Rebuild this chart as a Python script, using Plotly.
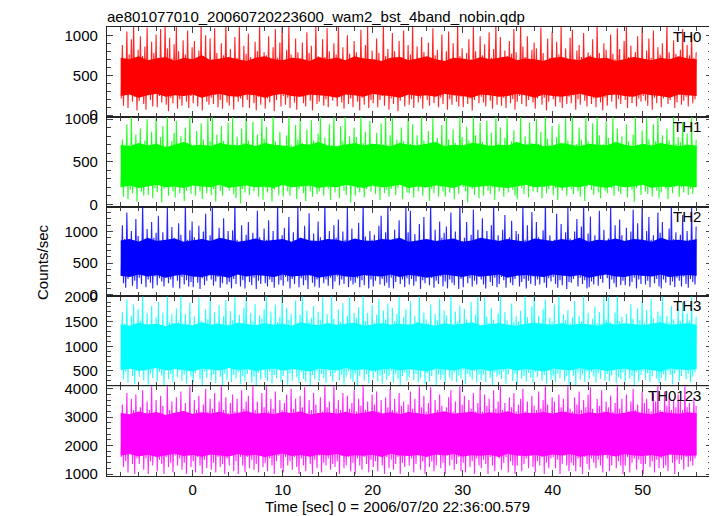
import plotly.graph_objects as go

# ---- data: counts/sec in equal time bins covering -8 s .. 56 s ----
t_start = -8.0
t_end = 56.0

th0 = [210,880,120,700,260,1050,90,760,300,950,170,1140,230,690,60,820,
       180,990,310,740,140,860,70,1100,250,680,190,920,110,780,280,1010,
       100,720,240,1080,160,650,290,1150,130,840,50,970,220,710,150,890,
       270,1120,80,800,200,690,120,940,320,760,170,1060,90,670,240,850,
       150,930,280,660,110,810,230,1130,60,740,300,1000,170,700,130,960,
       220,700,140,1090,260,780,100,680,190,900,80,750,290,1150,160,710,
       120,830,250,650,70,980,310,720,170,1110,210,690,100,870,270,770,
       190,1020,90,730,280,670,150,920,60,800,230,1130,130,660,320,790,
       80,750,210,990,160,690,270,850,50,1080,190,720,300,910,110,1150,
       240,680,130,820,220,1120,90,760,280,650,160,960,70,790,230,700,
       300,910,150,670,110,1040,250,780,180,870,60,690,260,1140,140,740,
       170,660,290,950,120,730,200,1090,100,800,270,680,180,900,310,760,
       110,1140,230,710,160,850,80,650,300,1000,140,770,210,690,100,930,
       260,790,170,640,60,1070,220,720,130,880,280,1110,90,680,190,810,
       150,700,310,960,100,780,190,660,240,1150,120,740,290,830,70,690,
       210,1030,140,800,270,670,50,930,180,730,230,1060,110,650,300,880,
       130,760,200,1130,90,690,260,860,160,650,210,980,80,790,280,720,
       190,910,120,670,240,1090,150,750,310,820,100,680,220,1010,140,640,
       270,800,70,1050,200,710,130,900,290,660,170,1150,110,740,230,840,
       100,680,250,780,140,950,210,700,60,1120,190,800,300,650,150,990,
       230,750,160,890,110,660,280,1040,180,720,80,830,240,1150,130,690,
       290,980,120,710,220,810,90,640,260,930,150,770,200,1080,70,790,
       170,670,240,1140,140,860,310,730,110,990,190,680,250,820,160,910,
       80,840,210,650,280,1100,130,780,220,690,60,960,170,720,260,1050,
       200,710,110,920,240,760,160,1130,90,640,290,840,140,690,230,970,
       150,1070,250,700,70,810,200,880,130,730,300,1030,180,660,110,790,
       270,750,140,950,210,670,100,1150,240,780,160,700,60,900,220,820,
       120,640,260,1010,170,770,290,700,80,1090,200,830,140,680,250,930,
       190,1140,90,730,230,870,150,650,300,790,110,990,210,710,170,1100,
       240,690,180,810,120,960,260,720,70,1060,220,660,150,850,290,760,
       100,900,210,680,250,1150,140,790,190,700,280,940,90,770,160,650,
       260,820,130,1080,180,690,230,880,110,750,290,1010,150,720,200,790]

th1 = [200,760,90,650,250,940,60,700,170,1040,130,630,240,820,30,680,
       280,890,150,620,100,750,220,1000,110,660,250,850,70,710,190,1050,
       140,640,270,790,20,920,180,680,230,1030,100,620,290,740,150,840,
       80,980,210,670,130,800,250,630,40,900,160,720,200,1050,120,650,
       240,700,100,860,280,620,150,950,60,760,220,660,130,1010,260,740,
       110,1050,180,680,30,820,240,640,160,920,100,750,280,630,200,960,
       160,630,260,1030,120,700,70,790,230,660,10,890,180,720,140,1050,
       250,750,110,640,210,970,150,690,290,820,90,620,220,1020,50,770,
       190,910,140,710,260,630,30,1050,170,740,240,660,110,850,280,680,
       90,650,220,810,150,1050,100,700,200,620,250,930,60,760,180,1000,
       270,720,130,630,40,880,210,680,150,990,90,750,260,640,120,830,
       150,1040,240,700,100,780,280,620,180,940,50,690,210,1050,140,660,
       220,640,70,920,250,740,160,1030,110,660,230,800,20,700,270,900,
       100,790,190,660,140,1050,230,720,80,850,180,620,260,980,150,710,
       260,670,120,840,200,640,50,950,240,700,130,1040,170,660,90,810,
       180,1020,250,690,110,760,190,650,290,900,60,740,220,630,140,1050,
       130,710,210,940,80,680,260,810,150,620,230,1050,100,750,190,660,
       240,860,40,650,180,1010,130,710,270,780,90,640,210,930,150,690,
       90,1050,230,760,140,670,200,880,60,720,250,620,120,1030,280,790,
       200,650,150,910,20,750,240,680,180,1050,110,810,220,660,70,960,
       280,730,100,620,230,980,160,700,120,840,200,650,50,1050,250,710,
       150,900,210,680,90,780,270,1040,140,640,240,740,170,870,100,660,
       60,700,250,1050,190,650,120,800,230,680,80,960,260,720,150,630,
       220,1000,140,710,280,850,70,660,200,1050,130,770,180,620,240,920,
       110,660,190,790,50,940,250,700,160,640,220,1010,100,750,270,670,
       180,1050,120,640,230,710,150,900,90,760,280,660,40,1040,200,740,
       250,700,170,950,110,660,210,1050,140,810,70,630,230,710,160,980,
       130,780,260,650,190,1030,100,720,250,890,150,670,120,800,210,640,
       200,940,80,740,240,670,170,820,30,1050,190,700,260,650,110,870,
       270,660,150,1020,120,760,210,630,90,940,240,740,160,1050,70,690,
       140,810,230,680,180,890,60,750,220,650,130,1040,200,710,250,790,
       90,730,200,970,140,660,260,830,110,700,180,1050,120,640,230,760]

th2 = [300,1100,180,880,110,1300,250,800,350,1010,140,860,220,1200,90,930,
       270,790,170,1450,330,870,120,1040,240,820,190,1150,100,900,290,980,
       150,1250,260,800,210,990,130,850,340,1380,180,790,240,1070,110,900,
       320,830,220,1130,100,950,280,810,160,1450,230,870,130,1020,200,1160,
       120,910,290,800,190,1090,90,840,260,1000,150,1280,220,790,330,940,
       240,1420,140,870,210,790,280,1060,110,820,180,1210,310,850,160,1010,
       200,810,100,1020,250,1450,170,870,320,780,130,1100,230,830,100,950,
       300,1150,200,790,150,980,270,830,90,1330,220,910,170,800,340,1050,
       180,870,130,1180,240,790,200,1010,110,850,290,1450,160,820,230,940,
       140,1060,280,850,210,1230,100,800,250,990,170,790,330,1400,120,900,
       260,820,150,1090,230,870,90,1290,300,790,190,970,130,840,240,1160,
       110,910,330,810,180,1450,240,850,140,1010,270,830,90,1100,210,900,
       290,1190,150,790,240,1000,170,870,310,1380,120,820,220,1050,160,800,
       190,850,260,1140,120,830,230,1450,150,920,300,790,100,1010,240,870,
       130,950,220,800,290,1090,160,1250,250,850,140,990,190,1450,110,830,
       270,870,100,1030,200,800,330,1180,170,890,240,790,120,1400,260,990,
       160,1330,250,830,140,960,210,800,280,1120,90,870,230,1230,180,810,
       310,790,150,1450,260,850,110,1030,220,830,170,1160,290,900,130,980,
       210,1080,100,820,240,1300,190,870,150,1000,340,790,90,1450,250,850,
       120,900,300,1150,180,790,260,950,130,1350,220,830,160,1030,280,800,
       240,1210,160,850,100,1010,320,820,200,1100,140,1450,270,870,120,940,
       170,830,280,1030,230,1260,110,790,300,910,190,1170,150,850,250,1010,
       320,960,130,820,200,1410,250,870,100,1100,220,790,170,1310,290,830,
       140,1150,240,910,160,800,290,1020,190,1450,110,850,260,940,210,790,
       280,870,170,1280,110,840,230,1120,150,790,310,990,90,1380,200,890,
       190,790,250,1000,310,1200,130,830,270,1080,170,1450,230,800,100,970,
       120,1240,210,850,160,940,290,790,140,1330,250,870,190,1030,330,830,
       260,890,90,1420,240,800,180,1100,120,840,300,1190,150,940,220,790,
       150,1060,310,830,130,1000,200,1350,270,850,100,1130,240,800,170,1450,
       300,820,160,1010,220,1230,120,870,320,940,180,800,250,1300,130,980,
       100,1150,240,850,190,790,280,1050,150,1450,210,880,120,990,270,830,
       220,950,130,1260,290,800,170,1010,110,870,250,1380,200,830,160,1080]

th3 = [560,1700,330,1450,480,1950,260,1350,640,1620,400,1850,230,1400,520,1760,
       380,1520,600,2050,310,1380,500,1680,220,1450,450,1820,350,1310,620,1590,
       290,1900,480,1420,410,1690,200,1340,540,2030,330,1490,440,1650,270,1400,
       600,1770,370,1500,510,2050,300,1380,430,1660,240,1460,520,1890,380,1320,
       260,1610,460,1420,630,1980,330,1520,210,1350,490,1750,360,1550,540,2050,
       310,1390,430,1700,250,1480,520,1840,380,1330,200,1620,450,1940,320,1450,
       570,1720,270,1530,420,2010,340,1380,480,1640,230,1470,400,1790,290,2050,
       440,1420,530,1670,260,1500,380,1860,210,1370,470,1630,320,1560,590,1750,
       360,2030,290,1450,490,1710,240,1360,420,1850,350,1490,550,1600,270,2050,
       400,1400,500,1780,220,1540,450,1660,300,1380,600,1930,370,1460,260,1640,
       480,2050,340,1440,280,1730,520,1500,200,1580,420,1820,330,1350,500,1700,
       290,1530,440,1990,360,1410,250,1650,510,1480,390,2050,280,1560,460,1390,
       550,1750,310,1490,420,1880,220,1430,380,1620,490,2040,340,1470,270,1680,
       450,1580,200,1800,390,1450,520,2050,300,1510,430,1680,250,1400,530,1850,
       340,1480,480,1640,280,1960,410,1390,240,1730,450,1550,310,1870,390,1440,
       500,1780,260,1510,440,1660,330,2010,210,1430,400,1590,470,1760,300,1460,
       370,1920,520,1420,310,1620,440,1500,260,2050,350,1380,540,1690,240,1550,
       460,1470,290,1850,400,1390,510,1660,210,1530,430,1970,320,1440,420,1730,
       250,1630,550,1450,360,2050,300,1400,480,1710,270,1500,410,1830,340,1370,
       520,1760,230,1550,450,1420,380,1900,320,1460,500,1650,260,2020,430,1410,
       310,1440,430,1990,270,1600,530,1480,360,1780,200,1540,480,1390,380,1670,
       420,2050,330,1430,490,1700,240,1520,430,1400,550,1870,290,1490,450,1620,
       230,1510,510,1730,340,1450,400,2050,280,1590,460,1420,360,1810,260,2050,
       480,1390,370,1620,540,1480,300,1760,420,1950,240,1440,500,1580,320,1500,
       390,1850,270,1440,450,2050,350,1410,520,1650,290,1530,400,1740,220,1480,
       530,1590,400,1920,210,1460,470,1620,320,1500,430,2050,270,1420,490,1680,
       330,1430,480,1560,380,1810,260,1470,450,1700,340,1400,540,2000,300,1540,
       440,2040,290,1490,410,1390,510,1690,250,2050,370,1510,330,1600,470,1420,
       270,1660,530,1450,340,1860,400,1560,210,1440,480,1770,280,1530,420,1930,
       500,1480,320,1740,450,1410,270,1960,390,1570,520,1450,340,1710,250,1610,
       360,2050,430,1430,300,1620,490,1490,420,1820,230,1550,450,1420,510,1770,
       290,1510,400,1900,510,1440,330,1670,440,1520,270,2030,380,1410,470,1600]

th0123 = [1600,3450,1250,3100,1450,3850,1050,3000,1700,3650,1350,3250,1000,3800,1550,3050,
          1350,3350,1750,3950,1150,3150,1550,3550,1000,3250,1450,4150,1300,3000,1700,3600,
          1100,3150,1500,3750,1350,3400,1000,3050,1600,4150,1250,3250,1400,3550,1050,3100,
          1650,3700,1300,3000,1550,3900,1150,3200,1400,3500,1000,3150,1750,4100,1250,3050,
          1450,3600,1050,3250,1600,3750,1300,3100,1000,3450,1500,4000,1200,3200,1700,3650,
          1150,3300,1400,3850,1050,3100,1600,3550,1250,4150,1350,3250,1000,3700,1550,3150,
          1300,3500,1650,3800,1100,3200,1450,3650,1000,3100,1600,3950,1300,3300,1050,3550,
          1600,3750,1200,3150,1500,4100,1150,3250,1350,3550,1050,3100,1700,3850,1250,3350,
          1400,4150,1100,3200,1550,3650,1300,3300,1000,3900,1450,3150,1650,3600,1200,3250,
          1050,3500,1600,3800,1300,3150,1450,4000,1150,3300,1600,3650,1250,3200,1000,3750,
          1550,3350,1300,4050,1100,3100,1700,3600,1350,3250,1000,3850,1500,3450,1200,3150,
          1650,3700,1050,3200,1400,4150,1300,3350,1550,3550,1150,3100,1350,4150,1250,3300,
          1450,3600,1000,3250,1650,3850,1200,3150,1300,3750,1600,3300,1100,3500,1400,3950,
          1000,3200,1550,3650,1300,3400,1150,4100,1600,3250,1350,3550,1050,3150,1500,3800,
          1250,3450,1450,3900,1100,3200,1700,3600,1300,3100,1000,3700,1600,3350,1200,4000,
          1500,3250,1150,3650,1350,3200,1600,3850,1000,3400,1400,3550,1250,3150,1650,3450,
          1300,3900,1550,3300,1050,3650,1350,3150,1650,4100,1150,3350,1450,3750,1000,3200,
          1600,3500,1250,4050,1450,3100,1100,3600,1300,3250,1700,3800,1200,3400,1400,3200,
          1000,3350,1650,3700,1300,3950,1500,3200,1150,3550,1350,3150,1600,4150,1100,3450,
          1400,3750,1050,3150,1700,3600,1250,3300,1450,3850,1000,3200,1550,3500,1300,4050,
          1200,3200,1500,3800,1350,3400,1000,3650,1600,3100,1300,3950,1100,3300,1650,3550,
          1550,4100,1150,3250,1400,3500,1600,3150,1050,3700,1450,3350,1300,3850,1000,3200,
          1300,3450,1700,3650,1100,4000,1350,3200,1550,3550,1200,3100,1650,3750,1250,3400,
          1050,3250,1450,3900,1300,3300,1600,3600,1000,4150,1400,3450,1200,3150,1550,3700,
          1600,3550,1200,3150,1500,3800,1000,3350,1350,3650,1650,3200,1300,4100,1100,3300,
          1400,3200,1300,3700,1100,3450,1550,3900,1250,3250,1000,3600,1600,3350,1350,3800,
          1150,4050,1550,3300,1400,3150,1200,3650,1500,3400,1300,3950,1050,3200,1700,3550,
          1550,3350,1100,3750,1300,3200,1650,3500,1200,4100,1450,3300,1300,3650,1000,3150,
          1300,3800,1600,3200,1050,3550,1400,4000,1550,3250,1150,3450,1500,3100,1350,3900,
          1000,3500,1350,3650,1650,3300,1250,3200,1450,3850,1050,3550,1500,4150,1200,3250,
          1550,3200,1200,3900,1300,3400,1100,3700,1700,3250,1400,3600,1000,3350,1500,3800,
          1350,3650,1500,3250,1150,4100,1600,3350,1250,3500,1450,3150,1300,3700,1550,3400]

# edges of the saturated core of each light curve, 1 s steps, t = -8 .. 56
th0_core_hi = [720, 700, 740, 690, 710, 730, 680, 720, 700, 750, 690, 710, 730, 700, 680, 720,
               740, 700, 690, 720, 710, 680, 730, 700, 720, 690, 740, 710, 700, 680, 720, 730,
               690, 710, 740, 700, 680, 720, 710, 690, 730, 700, 720, 740, 690, 710, 700, 680,
               720, 730, 700, 690, 740, 710, 720, 680, 700, 730, 710, 690, 720, 700, 740, 710, 700]
th0_core_lo = [240, 260, 220, 250, 270, 230, 250, 240, 260, 220, 250, 270, 240, 230, 260, 250,
               220, 250, 270, 240, 230, 260, 250, 240, 220, 260, 250, 230, 270, 250, 240, 220,
               260, 240, 250, 230, 270, 250, 240, 220, 260, 250, 230, 240, 270, 250, 220, 260,
               240, 230, 250, 270, 240, 220, 250, 260, 240, 230, 270, 250, 240, 220, 260, 250, 240]
th1_core_hi = [700, 680, 720, 690, 710, 670, 700, 730, 690, 700, 680, 720, 700, 690, 710, 680,
               720, 700, 690, 670, 710, 700, 730, 690, 680, 700, 720, 690, 710, 700, 680, 720,
               700, 690, 710, 730, 680, 700, 690, 720, 710, 680, 700, 690, 730, 700, 710, 680,
               690, 720, 700, 680, 710, 700, 690, 730, 700, 680, 710, 690, 720, 700, 680, 700, 690]
th1_core_lo = [200, 220, 190, 210, 230, 200, 210, 190, 220, 210, 200, 230, 190, 210, 220, 200,
               210, 190, 230, 200, 210, 220, 190, 210, 200, 230, 210, 190, 220, 200, 210, 230,
               190, 210, 200, 220, 210, 190, 230, 200, 210, 220, 200, 190, 210, 230, 200, 210,
               220, 190, 210, 200, 230, 210, 190, 220, 200, 210, 230, 190, 210, 200, 220, 210, 200]
th2_core_hi = [860, 880, 840, 900, 850, 870, 890, 840, 860, 880, 850, 900, 870, 840, 860, 890,
               850, 870, 880, 840, 900, 860, 850, 880, 870, 840, 890, 860, 850, 880, 870, 900,
               840, 860, 880, 850, 870, 890, 840, 860, 900, 870, 850, 880, 860, 840, 890, 870,
               850, 880, 860, 900, 840, 870, 860, 890, 850, 880, 870, 840, 900, 860, 870, 850, 880]
th2_core_lo = [300, 280, 320, 290, 310, 270, 300, 320, 290, 280, 310, 300, 270, 320, 290, 310,
               300, 280, 320, 290, 300, 310, 270, 300, 320, 290, 280, 310, 300, 290, 320, 280,
               310, 300, 270, 290, 320, 300, 280, 310, 290, 300, 320, 270, 300, 310, 290, 280,
               320, 300, 290, 310, 270, 300, 320, 290, 280, 310, 300, 290, 320, 280, 300, 310, 300]
th3_core_hi = [1450, 1420, 1480, 1440, 1460, 1410, 1470, 1450, 1430, 1490, 1440, 1460, 1420, 1480, 1450, 1430,
               1470, 1440, 1460, 1420, 1490, 1450, 1430, 1470, 1440, 1460, 1480, 1420, 1450, 1470, 1440, 1460,
               1430, 1480, 1450, 1420, 1470, 1440, 1460, 1490, 1430, 1450, 1470, 1440, 1420, 1460, 1480, 1450,
               1440, 1470, 1430, 1460, 1450, 1420, 1480, 1440, 1470, 1450, 1430, 1460, 1490, 1440, 1450, 1470, 1440]
th3_core_lo = [520, 550, 500, 530, 560, 510, 540, 520, 490, 550, 530, 510, 560, 520, 540, 500,
               530, 550, 510, 540, 520, 490, 550, 530, 510, 560, 520, 540, 500, 530, 550, 510,
               540, 520, 490, 550, 530, 510, 560, 520, 540, 500, 530, 550, 510, 540, 520, 490,
               550, 530, 510, 560, 520, 540, 500, 530, 550, 510, 540, 520, 490, 550, 530, 520, 540]
th0123_core_hi = [3150, 3100, 3200, 3120, 3180, 3080, 3160, 3220, 3110, 3170, 3130, 3190, 3090, 3150, 3210, 3120,
                  3160, 3100, 3180, 3140, 3200, 3090, 3150, 3170, 3120, 3190, 3110, 3160, 3220, 3130, 3170, 3100,
                  3180, 3140, 3090, 3160, 3200, 3120, 3150, 3190, 3110, 3170, 3130, 3210, 3100, 3160, 3140, 3180,
                  3120, 3200, 3150, 3090, 3170, 3130, 3190, 3110, 3160, 3220, 3140, 3100, 3180, 3150, 3120, 3170, 3140]
th0123_core_lo = [1650, 1700, 1620, 1680, 1600, 1660, 1710, 1630, 1670, 1610, 1690, 1650, 1620, 1700, 1640, 1680,
                  1600, 1660, 1720, 1630, 1670, 1610, 1690, 1650, 1700, 1620, 1660, 1640, 1680, 1600, 1710, 1650,
                  1630, 1670, 1610, 1690, 1650, 1700, 1620, 1660, 1640, 1680, 1600, 1710, 1650, 1630, 1670, 1620,
                  1690, 1650, 1700, 1610, 1660, 1640, 1680, 1620, 1700, 1650, 1630, 1670, 1610, 1690, 1660, 1640, 1650]

series_names = ["TH0", "TH1", "TH2", "TH3", "TH0123"]
series_values = [th0, th1, th2, th3, th0123]
core_hi = [th0_core_hi, th1_core_hi, th2_core_hi, th3_core_hi, th0123_core_hi]
core_lo = [th0_core_lo, th1_core_lo, th2_core_lo, th3_core_lo, th0123_core_lo]
series_colors = ["#ff0000", "#00ff00", "#0000ff", "#00ffff", "#ff00ff"]
y_ranges = [[-20, 1105], [-27, 1027], [-27, 1395], [190, 2015], [930, 4090]]
y_major = [500, 500, 500, 500, 1000]
y_minor = [100, 100, 100, 100, 200]
x_range = [-9.52, 57.7]

title_text = "ae801077010_20060720223600_wam2_bst_4band_nobin.qdp"
x_title = "Time [sec] 0 = 2006/07/20 22:36:00.579"
y_title = "Counts/sec"

FONT = "Liberation Sans, Arial, Helvetica, sans-serif"

# page body has an 8 px default margin: figure is 709x508 placed at (8, 8)
W, H = 709, 508
L, R, T, B = 99, 5, 19, 40
PW, PH = W - L - R, H - T - B

fig = go.Figure()
n = len(series_names)
for i in range(n):
    sfx = "" if i == 0 else str(i + 1)
    vals = series_values[i]
    dt = (t_end - t_start) / len(vals)
    t = [t_start + dt * (k + 0.5) for k in range(len(vals))]
    dc = (t_end - t_start) / (len(core_hi[i]) - 1)
    tc = [t_start + dc * k for k in range(len(core_hi[i]))]
    fig.add_trace(go.Scatter(x=tc, y=core_lo[i], mode="lines", line=dict(width=0, color=series_colors[i]),
                             xaxis="x" + sfx, yaxis="y" + sfx, showlegend=False, hoverinfo="skip"))
    fig.add_trace(go.Scatter(x=tc, y=core_hi[i], mode="lines", line=dict(width=0, color=series_colors[i]),
                             fill="tonexty", fillcolor=series_colors[i],
                             xaxis="x" + sfx, yaxis="y" + sfx, showlegend=False, hoverinfo="skip"))
    fig.add_trace(go.Scatter(x=t, y=vals, mode="lines",
                             line=dict(color=series_colors[i], width=1.1),
                             opacity=0.85,
                             xaxis="x" + sfx, yaxis="y" + sfx,
                             showlegend=False, hoverinfo="skip"))

layout = dict(
    width=W, height=H,
    margin=dict(l=L, r=R, t=T, b=B, pad=0),
    paper_bgcolor="white", plot_bgcolor="white",
    font=dict(family=FONT, size=15, color="black"),
    title=dict(text=title_text, x=L / W, xanchor="left",
               y=1 - 9 / H, yanchor="middle",
               font=dict(family=FONT, size=15, color="black")),
    annotations=[],
)

for i in range(n):
    sfx = "" if i == 0 else str(i + 1)
    top = 1 - i * 0.2
    bot = top - 0.2
    layout["xaxis" + sfx] = dict(
        domain=[0, 1], anchor="y" + sfx, range=x_range,
        showline=True, linecolor="#222", linewidth=1.3, mirror="ticks",
        ticks="inside", ticklen=6, tickcolor="#444", tickwidth=1,
        tick0=0, dtick=10,
        minor=dict(ticks="inside", ticklen=4, dtick=2, tick0=0, tickcolor="#444", showgrid=False),
        showgrid=False, zeroline=False,
        showticklabels=(i == n - 1),
        tickfont=dict(family=FONT, size=15, color="black"),
        matches=None if i == 0 else "x",
    )
    layout["yaxis" + sfx] = dict(
        domain=[max(bot, 0), top], anchor="x" + sfx, range=y_ranges[i],
        showline=True, linecolor="#222", linewidth=1.3, mirror="ticks",
        ticks="inside", ticklen=6, tickcolor="#444", tickwidth=1,
        tick0=0, dtick=y_major[i],
        minor=dict(ticks="inside", ticklen=4, dtick=y_minor[i], tick0=0, tickcolor="#444", showgrid=False),
        showgrid=False, zeroline=False,
        tickfont=dict(family=FONT, size=15, color="black"),
        ticklabelstandoff=5,
    )
    layout["annotations"].append(dict(
        text=series_names[i], xref="x" + sfx, yref="y" + sfx + " domain",
        x=56.67, y=1, xanchor="right", yanchor="top", yshift=1,
        showarrow=False, font=dict(family=FONT, size=15, color="black")))

# x title centred at page (397.5, 506.5); y title at page (42, 262)
layout["annotations"].append(dict(
    text=x_title, xref="paper", yref="paper",
    x=(397.5 - 8 - L) / PW, y=(H - B - (506.5 - 8)) / PH,
    xanchor="center", yanchor="middle", showarrow=False,
    font=dict(family=FONT, size=15, color="black")))
layout["annotations"].append(dict(
    text=y_title, xref="paper", yref="paper",
    x=(42 - 8 - L) / PW, y=(H - B - (262 - 8)) / PH, textangle=-90,
    xanchor="center", yanchor="middle", showarrow=False,
    font=dict(family=FONT, size=15, color="black")))

fig.update_layout(**layout)
fig.write_html("out.html")
